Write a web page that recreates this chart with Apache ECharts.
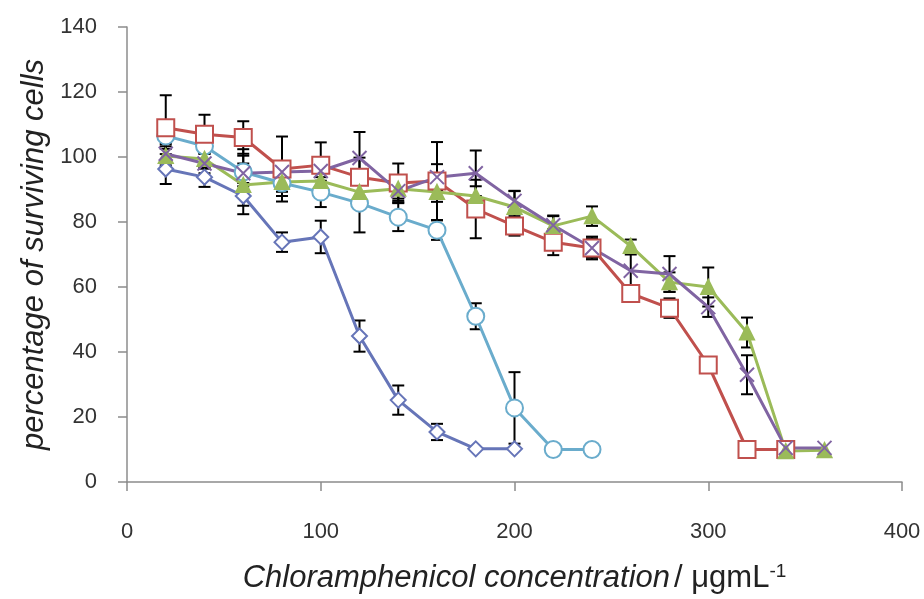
<!DOCTYPE html>
<html>
<head>
<meta charset="utf-8">
<script src="https://cdn.jsdelivr.net/npm/echarts@6/dist/echarts.min.js"></script>
<style>
  html, body { margin: 0; padding: 0; background: #fff; }
  #chartBox { width: 924px; height: 599px; }
</style>
</head>
<body>
<div id="chartBox"></div>
<script>
  // concentrations (x) for each series
  var xDiamond = [20, 40, 60, 80, 100, 120, 140, 160, 180, 200];
  var xCircle = [20, 40, 60, 80, 100, 120, 140, 160, 180, 200, 220, 240];
  var xSquare = [20, 40, 60, 80, 100, 120, 140, 160, 180, 200, 220, 240, 260, 280, 300, 320, 340];
  var xLong = [20, 40, 60, 80, 100, 120, 140, 160, 180, 200, 220, 240, 260, 280, 300, 320, 340, 360];

  // percentage of surviving cells
  var yDiamond = [96.3, 93.8, 88, 73.8, 75.4, 44.9, 25.2, 15.4, 10.2, 10.2];
  var yCircle = [106.5, 103.4, 95.4, 92, 89.2, 85.8, 81.5, 77.5, 51, 22.8, 10, 10];
  var ySquare = [109, 107, 106, 96.3, 97.5, 93.8, 92, 92.6, 84, 78.8, 73.8, 72, 58, 53.5, 36, 10, 10];
  var yTriangle = [100.3, 99.4, 91.4, 92.3, 92.6, 89.2, 90.2, 89.2, 88, 84.6, 78.8, 81.8, 72.6, 61.5, 60, 46, 9.5, 9.8];
  var yCross = [101, 98, 95, 95.4, 95.7, 99.7, 89.5, 93.8, 95, 86.5, 79, 72, 65, 64, 53.8, 33, 10.5, 10.5];

  // error bars (+/-)
  var eDiamond = [4.6, 3, 3, 3, 5, 4.8, 4.5, 2.5, 0, 0];
  var eCircle = [4, 6, 7, 4, 4.6, 9, 4.3, 3, 4, 11, 0, 0];
  var eSquare = [10, 6, 5, 10, 7, 6, 6, 12, 9, 3, 4, 3.5, 2, 3, 0, 0, 0];
  var eTriangle = [3, 3, 9, 3, 3, 3, 3, 3, 3, 5, 3, 3, 2, 3, 6, 4.6, 0, 0];
  var eCross = [3, 3, 3, 3, 3, 8, 3, 4, 7, 3, 3, 3, 5, 5.5, 3, 6, 0, 0];

  var xTicks = [0, 100, 200, 300, 400];
  var yTicks = [0, 20, 40, 60, 80, 100, 120, 140];

  function pairs(xs, ys) {
    return xs.map(function (x, i) { return [x, ys[i]]; });
  }
  function triples(xs, ys, es) {
    return xs.map(function (x, i) { return [x, ys[i], es[i]]; });
  }

  function errorSeries(data) {
    return {
      type: 'custom',
      z: 1,
      silent: true,
      data: data,
      renderItem: function (params, api) {
        var e = api.value(2);
        if (!e) return null;
        var x = api.value(0), y = api.value(1);
        var top = api.coord([x, y + e]);
        var bot = api.coord([x, y - e]);
        var st = { stroke: '#000', lineWidth: 2 };
        return {
          type: 'group',
          children: [
            { type: 'line', shape: { x1: top[0], y1: top[1], x2: bot[0], y2: bot[1] }, style: st },
            { type: 'line', shape: { x1: top[0] - 6, y1: top[1], x2: top[0] + 6, y2: top[1] }, style: st },
            { type: 'line', shape: { x1: bot[0] - 6, y1: bot[1], x2: bot[0] + 6, y2: bot[1] }, style: st }
          ]
        };
      }
    };
  }

  function lineSeries(data, color, symbol, size, filled) {
    return {
      type: 'line',
      z: 3,
      data: data,
      symbol: symbol,
      symbolSize: size,
      showAllSymbol: true,
      lineStyle: { color: color, width: 3 },
      itemStyle: { color: filled ? color : '#fff', borderColor: color, borderWidth: 2 }
    };
  }

  var chartLine = echarts.init(document.getElementById('chartBox'));

  var axisCommon = {
    axisLine: { show: true, lineStyle: { color: '#8c8c8c', width: 1.5 } },
    axisTick: { show: true, length: 9, lineStyle: { color: '#8c8c8c', width: 1.5 } },
    splitLine: { show: false },
    axisLabel: { color: '#333', fontSize: 22, fontFamily: 'Liberation Sans' }
  };

  var option = {
    animation: false,
    grid: { left: 127, right: 22, top: 27, bottom: 116 },
    xAxis: Object.assign({}, axisCommon, {
      type: 'value',
      min: xTicks[0],
      max: xTicks[xTicks.length - 1],
      interval: 100,
      axisLabel: Object.assign({}, axisCommon.axisLabel, { margin: 39 }),
      name: '{i|Chloramphenicol concentration}{n|/ μgmL}{s|-1}',
      nameLocation: 'middle',
      nameGap: 80,
      nameTextStyle: {
        rich: {
          i: { fontSize: 31, fontStyle: 'italic', fontFamily: 'Liberation Sans', color: '#222' },
          n: { fontSize: 31, fontFamily: 'Liberation Sans', color: '#222', padding: [0, 0, 0, 4] },
          s: { fontSize: 19, fontFamily: 'Liberation Sans', color: '#222', padding: [0, 0, 14, 0] }
        }
      }
    }),
    yAxis: Object.assign({}, axisCommon, {
      type: 'value',
      min: yTicks[0],
      max: yTicks[yTicks.length - 1],
      interval: 20,
      axisLabel: Object.assign({}, axisCommon.axisLabel, { margin: 30 }),
      name: 'percentage of surviving cells',
      nameLocation: 'middle',
      nameGap: 67,
      nameTextStyle: { fontSize: 31, fontStyle: 'italic', fontFamily: 'Liberation Sans', color: '#222' }
    }),
    series: [
      errorSeries(triples(xDiamond, yDiamond, eDiamond)),
      errorSeries(triples(xCircle, yCircle, eCircle)),
      errorSeries(triples(xSquare, ySquare, eSquare)),
      errorSeries(triples(xLong, yTriangle, eTriangle)),
      errorSeries(triples(xLong, yCross, eCross)),
      lineSeries(pairs(xDiamond, yDiamond), '#6675b8', 'diamond', 15, false),
      lineSeries(pairs(xCircle, yCircle), '#6aaccc', 'circle', 17, false),
      lineSeries(pairs(xSquare, ySquare), '#c0504d', 'rect', 17, false),
      lineSeries(pairs(xLong, yTriangle), '#9bbb59', 'triangle', 14, true),
      lineSeries(pairs(xLong, yCross), '#8064a2', 'path://M0,0L10,10M10,0L0,10', 14, false)
    ]
  };

  chartLine.setOption(option);
  window.onresize = chartLine.resize;
</script>
</body>
</html>
